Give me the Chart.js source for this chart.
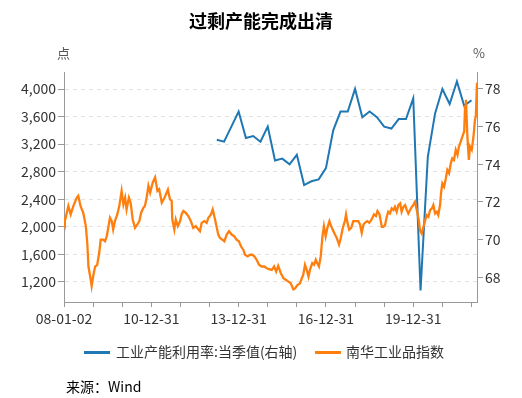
<!DOCTYPE html>
<html>
<head>
<meta charset="utf-8">
<script src="https://cdn.jsdelivr.net/npm/chart.js@4.4.0/dist/chart.umd.min.js"></script>
<style>
  body { margin: 0; background: #fff; font-family: 'Noto Sans CJK SC', 'Noto Sans', sans-serif; }
  #wrap { position: relative; width: 522px; height: 398px; overflow: hidden; }
  #chart { position: absolute; left: 0; top: 0; }
  .abs { position: absolute; white-space: nowrap; line-height: 1; }
  #title { left: 0; width: 522px; top: 11px; text-align: center; font-size: 18px; font-weight: bold; color: #000; }
  .unit { top: 46px; font-size: 13px; color: #555; }
  .leg { top: 344px; font-size: 14px; color: #333; }
  .legline { position: absolute; height: 3px; width: 26px; top: 351px; }
  #source { left: 66px; top: 379px; font-size: 14px; color: #000; }
</style>
</head>
<body>
<div id="wrap">
  <canvas id="chart" width="522" height="398"></canvas>
  <div id="title" class="abs">过剩产能完成出清</div>
  <div class="abs unit" style="left:57px">点</div>
  <div class="abs unit" style="left:473px">%</div>
  <div class="legline" style="left:84px;background:#1f77b4"></div>
  <div class="abs leg" style="left:116px">工业产能利用率:当季值(右轴)</div>
  <div class="legline" style="left:315px;background:#ff7f0e"></div>
  <div class="abs leg" style="left:346px">南华工业品指数</div>
  <div id="source" class="abs">来源：Wind</div>
</div>
<script>
// 工业产能利用率:当季值 (%), quarterly 2013Q1 - 2021Q4
const utilT = [
  2013.25, 2013.5, 2013.75, 2014.0, 2014.25, 2014.5, 2014.75, 2015.0,
  2015.25, 2015.5, 2015.75, 2016.0, 2016.25, 2016.5, 2016.75, 2017.0,
  2017.25, 2017.5, 2017.75, 2018.0, 2018.25, 2018.5, 2018.75, 2019.0,
  2019.25, 2019.5, 2019.75, 2020.0, 2020.25, 2020.5, 2020.75, 2021.0,
  2021.25, 2021.5, 2021.75, 2022.0
];
const utilRate = [
  75.3, 75.2, 76.0, 76.8, 75.4, 75.5, 75.2, 76.0,
  74.2, 74.3, 74.0, 74.5, 72.9, 73.1, 73.2, 73.8,
  75.8, 76.8, 76.8, 78.0, 76.5, 76.8, 76.5, 76.0,
  75.9, 76.4, 76.4, 77.5, 67.3, 74.4, 76.7, 78.0,
  77.2, 78.4, 77.1, 77.4
];

// 南华工业品指数 (点)
const nanhuaT = [
  2008.00, 2008.03, 2008.15, 2008.23, 2008.32, 2008.44, 2008.49, 2008.57, 2008.66, 2008.75,
  2008.80, 2008.84, 2008.92, 2008.95, 2009.01, 2009.07, 2009.14, 2009.21, 2009.26, 2009.35,
  2009.41, 2009.47, 2009.58, 2009.64, 2009.69, 2009.75, 2009.83, 2009.90, 2009.98, 2010.04,
  2010.10, 2010.15, 2010.23, 2010.29, 2010.36, 2010.44, 2010.52, 2010.59, 2010.65, 2010.73,
  2010.78, 2010.84, 2010.90, 2010.96, 2011.05, 2011.13, 2011.21, 2011.27, 2011.36, 2011.44,
  2011.51, 2011.57, 2011.64, 2011.70, 2011.72, 2011.79, 2011.84, 2011.91, 2011.99, 2012.04,
  2012.10, 2012.18, 2012.27, 2012.36, 2012.44, 2012.53, 2012.62, 2012.67, 2012.73, 2012.82,
  2012.90, 2012.96, 2013.05, 2013.11, 2013.19, 2013.25, 2013.30, 2013.36, 2013.44, 2013.51,
  2013.59, 2013.67, 2013.76, 2013.85, 2013.93, 2014.01, 2014.08, 2014.16, 2014.22, 2014.31,
  2014.39, 2014.47, 2014.54, 2014.62, 2014.70, 2014.79, 2014.88, 2014.97, 2015.04, 2015.14,
  2015.22, 2015.29, 2015.36, 2015.45, 2015.54, 2015.63, 2015.71, 2015.79, 2015.88, 2015.94,
  2016.02, 2016.11, 2016.17, 2016.22, 2016.28, 2016.34, 2016.40, 2016.45, 2016.53, 2016.59,
  2016.65, 2016.70, 2016.76, 2016.82, 2016.88, 2016.93, 2016.99, 2017.05, 2017.12, 2017.18,
  2017.23, 2017.31, 2017.37, 2017.45, 2017.51, 2017.58, 2017.65, 2017.69, 2017.74, 2017.80,
  2017.87, 2017.94, 2018.03, 2018.11, 2018.17, 2018.23, 2018.29, 2018.34, 2018.42, 2018.49,
  2018.57, 2018.65, 2018.72, 2018.77, 2018.84, 2018.92, 2018.97, 2019.03, 2019.09, 2019.14,
  2019.20, 2019.26, 2019.32, 2019.37, 2019.43, 2019.49, 2019.55, 2019.60, 2019.66, 2019.72,
  2019.78, 2019.83, 2019.89, 2019.95, 2020.00, 2020.06, 2020.12, 2020.18, 2020.23, 2020.29,
  2020.35, 2020.41, 2020.46, 2020.52, 2020.58, 2020.64, 2020.69, 2020.75, 2020.81, 2020.86,
  2020.92, 2020.96, 2021.00, 2021.06, 2021.12, 2021.17, 2021.23, 2021.29, 2021.34, 2021.40,
  2021.46, 2021.52, 2021.57, 2021.63, 2021.69, 2021.75, 2021.78, 2021.81, 2021.86, 2021.91,
  2021.95, 2022.01, 2022.07, 2022.12, 2022.15, 2022.19
];
const nanhuaIdx = [
  2140, 2083, 2302, 2180, 2300, 2424, 2450, 2300, 2205, 2010,
  1765, 1424, 1229, 1140, 1300, 1424, 1448, 1620, 1814, 1814,
  1790, 1863, 2131, 2083, 1960, 2083, 2180, 2302, 2522, 2326,
  2424, 2253, 2424, 2350, 2107, 1985, 2034, 2083, 2205, 2278,
  2302, 2424, 2595, 2497, 2644, 2717, 2522, 2546, 2350, 2410,
  2480, 2540, 2400, 2375, 2107, 1960, 2107, 2010, 2083, 2180,
  2229, 2205, 2156, 2083, 1985, 2010, 1960, 1936, 2058, 2083,
  2058, 2131, 2180, 2253, 2107, 1985, 1888, 1839, 1814, 1790,
  1888, 1936, 1888, 1863, 1814, 1790, 1717, 1668, 1595, 1571,
  1595, 1595, 1571, 1522, 1449, 1424, 1424, 1400, 1385, 1375,
  1424, 1351, 1434, 1327, 1254, 1229, 1205, 1180, 1092, 1107,
  1156, 1180, 1254, 1302, 1449, 1375, 1278, 1375, 1473, 1449,
  1522, 1473, 1424, 1571, 1863, 2010, 1863, 1985, 2083, 2010,
  1960, 1888, 1839, 1742, 1839, 1985, 2083, 2180, 2058, 1960,
  1985, 2083, 2083, 2083, 2034, 1912, 2034, 2058, 2083, 2058,
  2107, 2180, 2156, 2229, 2180, 2000, 2000, 2024, 2146, 2219,
  2194, 2267, 2243, 2291, 2219, 2316, 2340, 2219, 2291, 2316,
  2243, 2194, 2243, 2291, 2316, 2364, 2243, 2121, 1952, 1903,
  2000, 2097, 2170, 2146, 2243, 2267, 2316, 2194, 2219, 2170,
  2316, 2510, 2631, 2583, 2704, 2825, 2777, 2922, 2995, 2971,
  3117, 3044, 3165, 3238, 3311, 3384, 3748, 3845, 3311, 2971,
  3165, 3117, 3311, 3553, 3602, 4090
];

// axis ticks
const xTickYears = [2008, 2009, 2010, 2011, 2012, 2013, 2014, 2015, 2016, 2017, 2018, 2019, 2020, 2021, 2022];
const xTickLabels = ['08-01-02', '', '', '10-12-31', '', '', '13-12-31', '', '', '16-12-31', '', '', '19-12-31', '', ''];
const leftTicks = [1200, 1600, 2000, 2400, 2800, 3200, 3600, 4000];
const rightTicks = [68, 70, 72, 74, 76, 78];

const fmt = (v) => String(v).replace(/\B(?=(\d{3})+(?!\d))/g, ',');
const tickFont = { family: "'Noto Sans CJK SC', 'Noto Sans', sans-serif", size: 14 };

const ctx = document.getElementById('chart');
new Chart(ctx, {
  type: 'line',
  data: {
    datasets: [
      {
        label: '工业产能利用率:当季值(右轴)',
        data: utilT.map((t, i) => ({ x: t, y: utilRate[i] })),
        yAxisID: 'y1',
        borderColor: '#1f77b4',
        borderWidth: 2,
        pointRadius: 0,
        order: 1,
      },
      {
        label: '南华工业品指数',
        data: nanhuaT.map((t, i) => ({ x: t, y: nanhuaIdx[i] })),
        yAxisID: 'y',
        borderColor: '#ff7f0e',
        borderWidth: 2.3,
        pointRadius: 0,
        order: 0,
      },
    ],
  },
  options: {
    responsive: false,
    animation: false,
    layout: { padding: { top: 72, bottom: 66, left: 0, right: 0 } },
    plugins: { legend: { display: false }, tooltip: { enabled: false } },
    scales: {
      x: {
        type: 'linear',
        min: 2008,
        max: 2022.19,
        afterBuildTicks: (s) => { s.ticks = xTickYears.map((v) => ({ value: v })); },
        afterFit: (s) => { s.height = 30; },
        ticks: {
          autoSkip: false,
          maxRotation: 0,
          color: '#333',
          font: tickFont,
          padding: 3,
          callback: (v) => xTickLabels[xTickYears.indexOf(v)] || '',
        },
        grid: { drawOnChartArea: false, tickColor: '#999', tickLength: 5 },
        border: { color: '#999' },
      },
      y: {
        position: 'left',
        min: 909,
        max: 4247,
        afterBuildTicks: (s) => { s.ticks = leftTicks.map((v) => ({ value: v })); },
        afterFit: (s) => { s.width = 64; },
        ticks: { color: '#333', font: tickFont, padding: 2, callback: (v) => fmt(v) },
        grid: { color: '#e2e2e2', tickColor: '#999', tickLength: 6 },
        border: { color: '#999', dash: [4, 4] },
      },
      y1: {
        position: 'right',
        min: 66.69,
        max: 78.9,
        afterBuildTicks: (s) => { s.ticks = rightTicks.map((v) => ({ value: v })); },
        afterFit: (s) => { s.width = 45; },
        ticks: { color: '#333', font: tickFont, padding: 2 },
        grid: { drawOnChartArea: false, tickColor: '#999', tickLength: 6 },
        border: { color: '#999' },
      },
    },
  },
});
</script>
</body>
</html>
